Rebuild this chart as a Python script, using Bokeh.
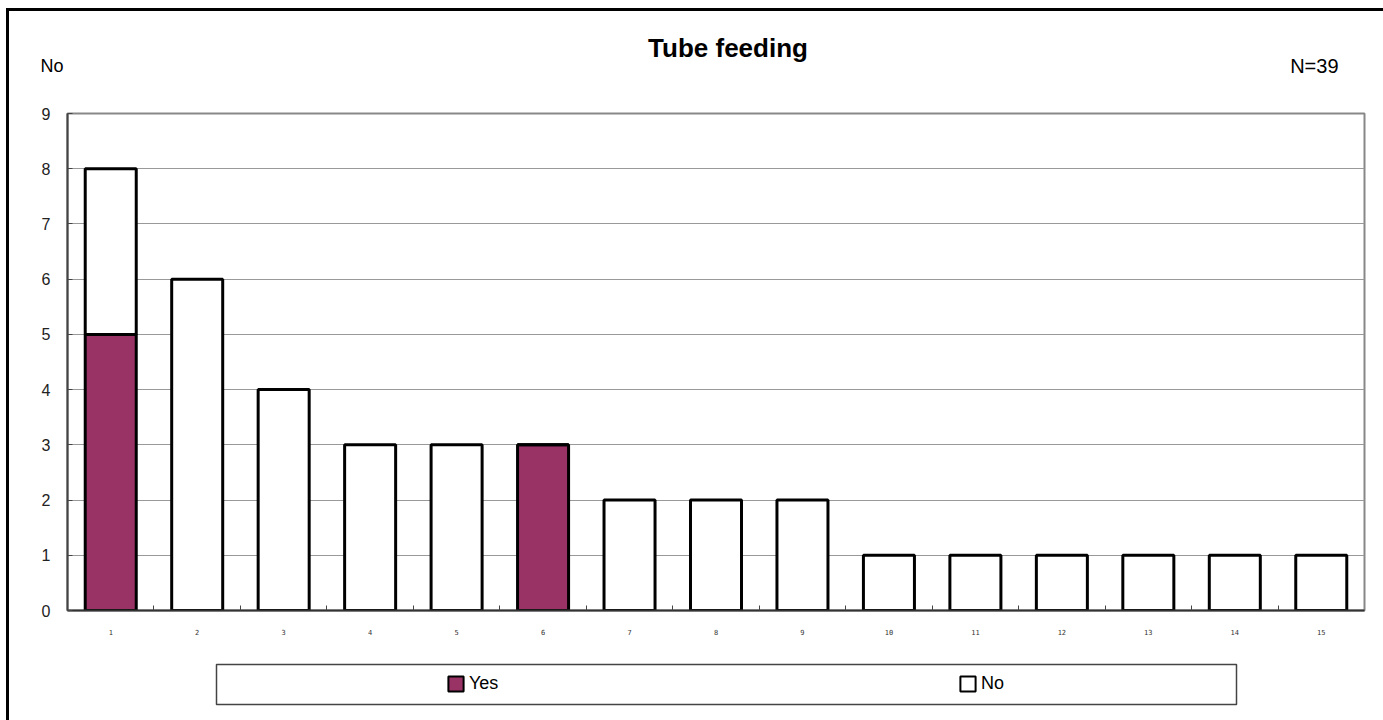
from bokeh.plotting import figure
from bokeh.layouts import column
from bokeh.models import (ColumnDataSource, Range1d, FixedTicker, Legend, LegendItem, Label,
                          LinearAxis, BoxAnnotation)
from bokeh.embed import file_html
from bokeh.resources import INLINE

categories = [str(i) for i in range(1, 16)]
positions = list(range(1, 16))
yes_values = [5, 0, 0, 0, 0, 3, 0, 0, 0, 0, 0, 0, 0, 0, 0]
no_values = [3, 6, 4, 3, 3, 0, 2, 2, 2, 1, 1, 1, 1, 1, 1]
series = ["Yes", "No"]
series_colors = ["#993366", "#ffffff"]
y_ticks = list(range(0, 10))
title_text = "Tube feeding"
y_title = "No"
n_text = "N=39"

CW = 1374                 # content width (inside the border)
HA, HB, HC = 87, 542, 80  # header, chart, legend strip heights
BL, BR = 58, 19           # shared left / right borders (frames are aligned)
FW = CW - BL - BR         # frame width in px

# ---------- header (title + corner texts) ----------
pa = figure(width=CW, height=HA, output_backend="svg", toolbar_location=None,
            x_range=Range1d(0, FW), y_range=Range1d(HA, 0),
            x_axis_type=None, y_axis_type=None,
            min_border_left=BL, min_border_right=BR, min_border_top=0, min_border_bottom=0)
pa.outline_line_color = None
pa.grid.visible = False
pa.add_layout(Label(x=660.5, y=36, text=title_text, text_font="Liberation Sans",
                    text_font_style="bold", text_font_size="26px",
                    text_align="center", text_baseline="middle", text_color="black"))
pa.add_layout(Label(x=1271, y=54, text=n_text, text_font="Liberation Sans", text_font_size="20px",
                    text_align="right", text_baseline="middle", text_color="black"))
ya = LinearAxis(ticker=FixedTicker(ticks=[54]), major_label_overrides={54: y_title},
                axis_line_color=None, major_tick_line_color=None, minor_tick_line_color=None,
                major_tick_in=0, major_tick_out=0, minor_tick_in=0, minor_tick_out=0,
                major_label_standoff=4, major_label_text_font="Liberation Sans",
                major_label_text_font_size="18px", major_label_text_color="black")
pa.add_layout(ya, "left")

# ---------- main chart ----------
p = figure(width=CW, height=HB, output_backend="svg", toolbar_location=None,
           x_range=Range1d(0.5, 15.5), y_range=Range1d(0, 9),
           min_border_left=BL, min_border_right=BR, min_border_top=15, min_border_bottom=30)
p.outline_line_color = "#888888"
p.outline_line_width = 2

src = ColumnDataSource(dict(x=positions, Yes=yes_values, No=no_values))
p.vbar_stack(series, x="x", width=0.59, source=src,
             fill_color=series_colors, line_color="black", line_width=3)

p.xgrid.grid_line_color = None
p.ygrid.ticker = FixedTicker(ticks=y_ticks)
p.ygrid.grid_line_color = "#999999"
p.ygrid.grid_line_width = 1

p.yaxis.ticker = FixedTicker(ticks=y_ticks)
p.yaxis.axis_line_color = "#444444"
p.yaxis.axis_line_width = 2
p.yaxis.major_tick_in = 5
p.yaxis.major_tick_out = 0
p.yaxis.minor_tick_line_color = None
p.yaxis.major_tick_line_color = "#444444"
p.yaxis.major_label_text_font = "Liberation Sans"
p.yaxis.major_label_text_font_size = "16px"
p.yaxis.major_label_text_color = "#222222"
p.yaxis.major_label_standoff = 17

p.xaxis.ticker = FixedTicker(ticks=positions, minor_ticks=[i + 0.5 for i in range(1, 15)])
p.xaxis.major_label_overrides = {i: c for i, c in zip(positions, categories)}
p.xaxis.axis_line_color = "#333333"
p.xaxis.axis_line_width = 2
p.xaxis.major_tick_line_color = None
p.xaxis.minor_tick_in = 5
p.xaxis.minor_tick_out = 0
p.xaxis.minor_tick_line_color = "#444444"
p.xaxis.major_label_text_font = "DejaVu Sans Mono"
p.xaxis.major_label_text_font_size = "7px"
p.xaxis.major_label_text_color = "#333333"
p.xaxis.major_label_standoff = 12

# ---------- legend strip ----------
pc = figure(width=CW, height=HC, output_backend="svg", toolbar_location=None,
            x_range=Range1d(0, FW), y_range=Range1d(HC, 0),
            x_axis_type=None, y_axis_type=None,
            min_border_left=BL, min_border_right=BR, min_border_top=0, min_border_bottom=0)
pc.grid.visible = False
pc.outline_line_color = None
pc.add_layout(BoxAnnotation(left=149, right=1169, top=24, bottom=64,
                            fill_color="white", fill_alpha=1,
                            line_color="#444444", line_alpha=1, line_width=1.5))
# legend proxies (same series, hidden in this strip; only their legend swatches show)
lr = pc.vbar_stack(series, x="x", width=0.59, source=src, visible=False,
                   fill_color=series_colors, line_color="black", line_width=2)
legend = Legend(items=[LegendItem(label=s, renderers=[r]) for s, r in zip(series, lr)],
                orientation="horizontal", location=(379, 26), padding=0, margin=0,
                spacing=449, glyph_width=19, glyph_height=19, label_width=40, label_height=19,
                label_standoff=4, label_text_font="Liberation Sans", label_text_font_size="18px",
                label_text_color="black", border_line_alpha=0, background_fill_alpha=0,
                inactive_fill_alpha=0)
pc.add_layout(legend, "center")

layout = column(pa, p, pc, spacing=0, margin=(8, 0, 0, 6),
                styles={"border-left": "3px solid black", "border-top": "3px solid black"})

open("out.html", "w").write(file_html(layout, INLINE))
